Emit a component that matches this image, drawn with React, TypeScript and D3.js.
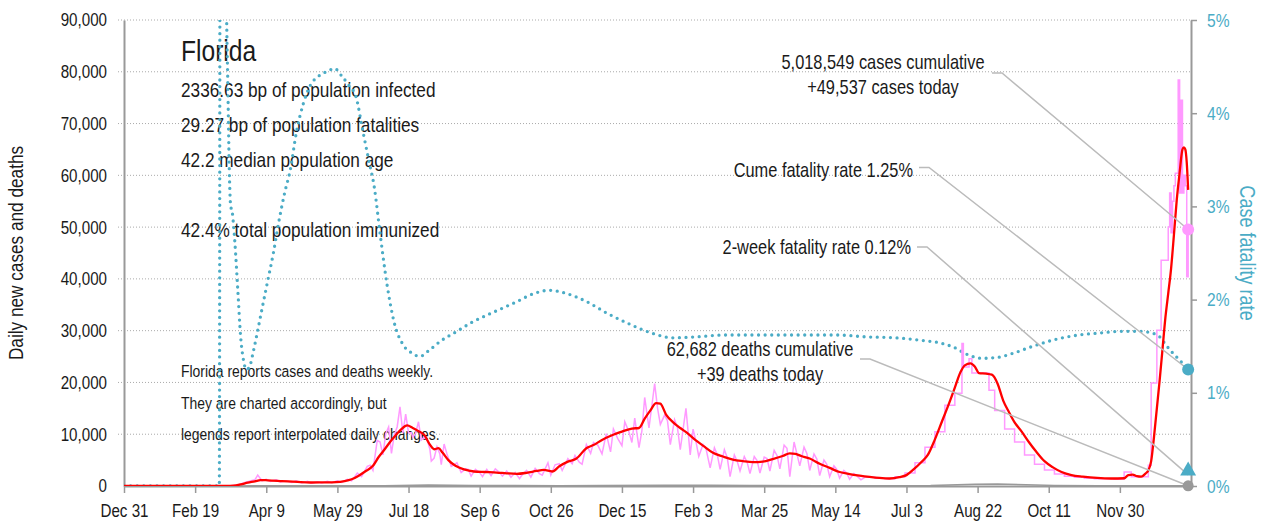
import { useEffect, useRef } from 'react';
import * as d3 from 'd3';

const W = 1266, H = 527;
const FONT = '"Liberation Sans", Arial, sans-serif';
const NARROW = 0.82; // horizontal squeeze to mimic a condensed face
const TEAL = '#4bacc6', PINK = '#ff99ff', RED = '#ff0000', GRAY = '#999';

// chart frame
const left = 124, right = 1191, top = 20, bottom = 486;

const startDate = '2019-12-31';
const endDate = '2022-01-19';
const lastDate = '2022-01-17';
const caseTicks = [0, 10000, 20000, 30000, 40000, 50000, 60000, 70000, 80000, 90000];
const rateTicks = [0, 1, 2, 3, 4, 5];
const tickEveryDays = 50;
const tickCount = 15;

const title = 'Florida';
const statLines = [
  '2336.63 bp of population infected',
  '29.27 bp of population fatalities',
  '42.2 median population age',
  '',
  '42.4% total population immunized',
];
const noteLines = [
  'Florida reports cases and deaths weekly.',
  'They are charted accordingly, but',
  'legends report interpolated daily changes.',
];

const casesToday = 49537;
const deathsToday = 39;
const cumeRate = 1.25;
const twoWeekRate = 0.12;

// 7-day average of new cases
const avgCases: [string, number][] = [
  ['2019-12-31', 0], ['2020-03-12', 0], ['2020-03-17', 50], ['2020-03-22', 300], ['2020-03-27', 650],
  ['2020-04-01', 900], ['2020-04-05', 1150], ['2020-04-10', 1100], ['2020-04-20', 950], ['2020-05-01', 780],
  ['2020-05-10', 680], ['2020-05-20', 700], ['2020-05-28', 750], ['2020-06-03', 950], ['2020-06-08', 1300],
  ['2020-06-13', 2000], ['2020-06-18', 2900], ['2020-06-23', 3900], ['2020-06-27', 5600], ['2020-07-01', 7000],
  ['2020-07-05', 8500], ['2020-07-09', 9800], ['2020-07-13', 11000], ['2020-07-17', 11700], ['2020-07-21', 11200],
  ['2020-07-25', 10600], ['2020-07-29', 9900], ['2020-08-02', 8000], ['2020-08-05', 7100], ['2020-08-08', 7300],
  ['2020-08-11', 6400], ['2020-08-15', 5000], ['2020-08-20', 3900], ['2020-08-26', 3200], ['2020-09-02', 2800],
  ['2020-09-10', 2700], ['2020-09-18', 2600], ['2020-09-25', 2450], ['2020-10-02', 2350], ['2020-10-09', 2550],
  ['2020-10-16', 2900], ['2020-10-21', 3100], ['2020-10-27', 2800], ['2020-11-01', 3800], ['2020-11-07', 4700],
  ['2020-11-13', 5300], ['2020-11-20', 7300], ['2020-11-25', 7900], ['2020-12-01', 8900], ['2020-12-08', 9800],
  ['2020-12-15', 10500], ['2020-12-22', 11100], ['2020-12-27', 11200], ['2020-12-31', 13000], ['2021-01-04', 14600],
  ['2021-01-08', 16000], ['2021-01-11', 15900], ['2021-01-15', 13800], ['2021-01-20', 12300], ['2021-01-25', 11200],
  ['2021-01-30', 10200], ['2021-02-05', 8800], ['2021-02-11', 7600], ['2021-02-17', 6400], ['2021-02-24', 5700],
  ['2021-03-03', 5100], ['2021-03-10', 4800], ['2021-03-17', 4600], ['2021-03-24', 4700], ['2021-03-31', 5200],
  ['2021-04-07', 5800], ['2021-04-12', 6300], ['2021-04-16', 6200], ['2021-04-20', 5800], ['2021-04-26', 5300],
  ['2021-05-03', 4300], ['2021-05-10', 3500], ['2021-05-17', 2700], ['2021-05-24', 2300], ['2021-05-31', 2000],
  ['2021-06-07', 1750], ['2021-06-14', 1550], ['2021-06-21', 1450], ['2021-06-28', 1700], ['2021-07-03', 2100],
  ['2021-07-08', 3200], ['2021-07-13', 4500], ['2021-07-18', 6000], ['2021-07-23', 9000], ['2021-07-28', 12500],
  ['2021-08-02', 16000], ['2021-08-06', 19000], ['2021-08-10', 22000], ['2021-08-13', 23300], ['2021-08-17', 23700],
  ['2021-08-20', 23100], ['2021-08-23', 21800], ['2021-08-28', 21700], ['2021-09-01', 21500], ['2021-09-05', 19800],
  ['2021-09-09', 16500], ['2021-09-13', 14300], ['2021-09-17', 12300], ['2021-09-22', 10500], ['2021-09-27', 8500],
  ['2021-10-02', 6700], ['2021-10-08', 4800], ['2021-10-14', 3600], ['2021-10-20', 2700], ['2021-10-27', 2100],
  ['2021-11-04', 1800], ['2021-11-14', 1550], ['2021-11-24', 1450], ['2021-12-03', 1500], ['2021-12-06', 2100],
  ['2021-12-09', 2200], ['2021-12-12', 1900], ['2021-12-15', 1800], ['2021-12-18', 2400], ['2021-12-20', 3000],
  ['2021-12-22', 4800], ['2021-12-24', 9500], ['2021-12-26', 15000], ['2021-12-28', 20500], ['2021-12-30', 26500],
  ['2022-01-01', 32500], ['2022-01-03', 37200], ['2022-01-05', 42000], ['2022-01-07', 48500], ['2022-01-09', 55300],
  ['2022-01-11', 60500], ['2022-01-13', 65000], ['2022-01-14', 65400], ['2022-01-15', 65000], ['2022-01-16', 62500],
  ['2022-01-17', 57200],
];

// daily new cases while reported daily
const dailyCases: [string, number][] = [
  ['2019-12-31', 0], ['2020-03-10', 0], ['2020-03-15', 50], ['2020-03-20', 200], ['2020-03-25', 700],
  ['2020-03-28', 900], ['2020-04-01', 1200], ['2020-04-03', 2100], ['2020-04-06', 1000], ['2020-04-09', 1300],
  ['2020-04-12', 900], ['2020-04-16', 1200], ['2020-04-19', 800], ['2020-04-23', 1000], ['2020-04-27', 700],
  ['2020-04-30', 1000], ['2020-05-04', 600], ['2020-05-08', 900], ['2020-05-11', 550], ['2020-05-15', 800],
  ['2020-05-18', 600], ['2020-05-22', 900], ['2020-05-25', 650], ['2020-05-29', 1000], ['2020-06-01', 700],
  ['2020-06-05', 1300], ['2020-06-08', 1000], ['2020-06-12', 2500], ['2020-06-15', 1800], ['2020-06-19', 3800],
  ['2020-06-21', 4000], ['2020-06-23', 3000], ['2020-06-26', 8800], ['2020-06-28', 8500], ['2020-06-30', 6000],
  ['2020-07-02', 10100], ['2020-07-04', 11400], ['2020-07-06', 6300], ['2020-07-08', 9900], ['2020-07-10', 11400],
  ['2020-07-12', 15300], ['2020-07-14', 10200], ['2020-07-16', 13900], ['2020-07-18', 10300], ['2020-07-20', 10300],
  ['2020-07-21', 9400], ['2020-07-23', 10200], ['2020-07-25', 12400], ['2020-07-27', 8900], ['2020-07-29', 9400],
  ['2020-07-31', 9000], ['2020-08-02', 7100], ['2020-08-03', 4800], ['2020-08-05', 5400], ['2020-08-07', 7600],
  ['2020-08-09', 6200], ['2020-08-10', 4100], ['2020-08-12', 8100], ['2020-08-14', 6200], ['2020-08-17', 3800],
  ['2020-08-19', 4100], ['2020-08-21', 4500], ['2020-08-24', 2600], ['2020-08-27', 3300], ['2020-08-29', 3200],
  ['2020-08-31', 1900], ['2020-09-03', 3200], ['2020-09-06', 2600], ['2020-09-08', 1800], ['2020-09-11', 3200],
  ['2020-09-14', 2000], ['2020-09-17', 3300], ['2020-09-20', 2600], ['2020-09-22', 1900], ['2020-09-25', 2900],
  ['2020-09-28', 1700], ['2020-10-01', 2600], ['2020-10-04', 1400], ['2020-10-06', 2200], ['2020-10-09', 3000],
  ['2020-10-12', 1700], ['2020-10-15', 3400], ['2020-10-18', 2400], ['2020-10-20', 2100], ['2020-10-24', 4500],
  ['2020-10-26', 2100], ['2020-10-29', 4100], ['2020-11-01', 4300], ['2020-11-03', 3000], ['2020-11-07', 5300],
  ['2020-11-10', 4300], ['2020-11-12', 5900], ['2020-11-15', 4600], ['2020-11-17', 4200], ['2020-11-20', 8000],
  ['2020-11-23', 6300], ['2020-11-25', 8400], ['2020-11-28', 7900], ['2020-12-01', 6200], ['2020-12-04', 10100],
  ['2020-12-07', 6600], ['2020-12-09', 11000], ['2020-12-12', 9200], ['2020-12-15', 7800], ['2020-12-17', 12400],
  ['2020-12-20', 10400], ['2020-12-22', 8400], ['2020-12-24', 13100], ['2020-12-27', 7400], ['2020-12-29', 10600],
  ['2020-12-31', 17100], ['2021-01-03', 11200], ['2021-01-05', 15400], ['2021-01-07', 19800], ['2021-01-09', 15100],
  ['2021-01-11', 11900], ['2021-01-14', 13700], ['2021-01-16', 12600], ['2021-01-18', 8000], ['2021-01-21', 12800],
  ['2021-01-23', 11300], ['2021-01-25', 7000], ['2021-01-29', 15000], ['2021-02-01', 6000], ['2021-02-03', 11000],
  ['2021-02-05', 8600], ['2021-02-07', 5700], ['2021-02-10', 8000], ['2021-02-12', 7300], ['2021-02-15', 3500],
  ['2021-02-18', 7400], ['2021-02-20', 6100], ['2021-02-22', 3200], ['2021-02-25', 7000], ['2021-02-27', 5500],
  ['2021-03-01', 1800], ['2021-03-04', 6000], ['2021-03-06', 4800], ['2021-03-08', 2900], ['2021-03-11', 5700],
  ['2021-03-13', 4600], ['2021-03-15', 2400], ['2021-03-18', 5700], ['2021-03-20', 4900], ['2021-03-22', 2500],
  ['2021-03-25', 5600], ['2021-03-27', 5300], ['2021-03-29', 2900], ['2021-04-01', 6900], ['2021-04-03', 5900],
  ['2021-04-05', 3300], ['2021-04-08', 7900], ['2021-04-10', 7300], ['2021-04-12', 1800], ['2021-04-15', 8500],
  ['2021-04-17', 6200], ['2021-04-19', 3900], ['2021-04-22', 7500], ['2021-04-24', 6300], ['2021-04-26', 3000],
  ['2021-04-29', 6200], ['2021-05-01', 5200], ['2021-05-03', 2000], ['2021-05-06', 5000], ['2021-05-08', 4200],
  ['2021-05-10', 1800], ['2021-05-13', 3900], ['2021-05-15', 3200], ['2021-05-17', 1500], ['2021-05-20', 3000],
  ['2021-05-22', 2500], ['2021-05-24', 1300], ['2021-05-27', 2400], ['2021-05-29', 2000], ['2021-06-01', 1200],
  ['2021-06-04', 1700],
];

// new cases after the switch to weekly reporting (held flat until the next value)
const weeklyCases: [string, number][] = [
  ['2021-06-04', 1700], ['2021-06-11', 1500], ['2021-06-18', 1400], ['2021-06-25', 1800], ['2021-07-02', 2500],
  ['2021-07-09', 4500], ['2021-07-16', 7500], ['2021-07-23', 10500], ['2021-07-30', 15600], ['2021-08-06', 17900],
  ['2021-08-11', 27500], ['2021-08-12', 23000], ['2021-08-16', 24600], ['2021-08-18', 21800], ['2021-08-30', 18500],
  ['2021-09-03', 14600], ['2021-09-10', 11000], ['2021-09-17', 8500], ['2021-09-24', 6000], ['2021-10-01', 4200],
  ['2021-10-08', 3100], ['2021-10-15', 2300], ['2021-10-22', 1900], ['2021-10-29', 1700], ['2021-11-05', 1500],
  ['2021-11-12', 1400], ['2021-11-19', 1400], ['2021-11-26', 1300], ['2021-12-03', 2700], ['2021-12-08', 1800],
  ['2021-12-20', 4000], ['2021-12-22', 19900], ['2021-12-26', 30100], ['2021-12-29', 43600], ['2022-01-03', 50000],
  ['2022-01-04', 56600], ['2022-01-05', 48900], ['2022-01-06', 55000], ['2022-01-07', 58000], ['2022-01-08', 60400],
  ['2022-01-10', 78400], ['2022-01-11', 56600], ['2022-01-12', 74500], ['2022-01-13', 56600], ['2022-01-14', 60000],
  ['2022-01-15', 58000], ['2022-01-16', 40400], ['2022-01-17', 49537],
];

// 7-day average of new deaths
const avgDeaths: [string, number][] = [
  ['2019-12-31', 0], ['2020-03-20', 5], ['2020-04-15', 50], ['2020-06-01', 40], ['2020-07-01', 50],
  ['2020-08-01', 180], ['2020-09-01', 110], ['2020-10-01', 100], ['2020-11-01', 60], ['2020-12-01', 90],
  ['2021-01-15', 160], ['2021-02-15', 140], ['2021-03-15', 80], ['2021-05-01', 60], ['2021-06-15', 40],
  ['2021-07-20', 80], ['2021-08-20', 330], ['2021-09-05', 380], ['2021-09-25', 250], ['2021-10-15', 100],
  ['2021-11-15', 40], ['2021-12-15', 25], ['2022-01-17', 39],
];

// case fatality rate, percent
const fatalityRate: [string, number][] = [
  ['2019-12-31', 0], ['2020-03-07', 0], ['2020-03-08', 15], ['2020-03-11', 7], ['2020-03-12', 5.2],
  ['2020-03-13', 4.3], ['2020-03-14', 3.4], ['2020-03-15', 3.0], ['2020-03-16', 2.95], ['2020-03-17', 2.8],
  ['2020-03-18', 2.6], ['2020-03-20', 2.1], ['2020-03-22', 1.6], ['2020-03-24', 1.35], ['2020-03-26', 1.25],
  ['2020-03-28', 1.27], ['2020-03-31', 1.45], ['2020-04-03', 1.67], ['2020-04-06', 1.9], ['2020-04-10', 2.2],
  ['2020-04-14', 2.5], ['2020-04-18', 2.85], ['2020-04-22', 3.15], ['2020-04-26', 3.4], ['2020-04-30', 3.78],
  ['2020-05-05', 4.1], ['2020-05-10', 4.3], ['2020-05-16', 4.4], ['2020-05-22', 4.45], ['2020-05-27', 4.48],
  ['2020-06-01', 4.4], ['2020-06-06', 4.3], ['2020-06-11', 4.18], ['2020-06-16', 3.8], ['2020-06-20', 3.5],
  ['2020-06-24', 3.2], ['2020-06-28', 2.71], ['2020-07-03', 2.15], ['2020-07-08', 1.75], ['2020-07-14', 1.52],
  ['2020-07-20', 1.43], ['2020-07-26', 1.39], ['2020-08-01', 1.45], ['2020-08-10', 1.56], ['2020-08-20', 1.65],
  ['2020-09-01', 1.76], ['2020-09-15', 1.86], ['2020-10-01', 1.97], ['2020-10-15', 2.07], ['2020-10-25', 2.1],
  ['2020-11-05', 2.07], ['2020-11-20', 1.98], ['2020-12-05', 1.85], ['2020-12-20', 1.74], ['2021-01-05', 1.64],
  ['2021-01-20', 1.59], ['2021-02-05', 1.6], ['2021-02-25', 1.62], ['2021-03-15', 1.62], ['2021-04-05', 1.62],
  ['2021-04-25', 1.62], ['2021-05-15', 1.62], ['2021-06-05', 1.6], ['2021-06-25', 1.59], ['2021-07-15', 1.56],
  ['2021-07-25', 1.54], ['2021-08-05', 1.49], ['2021-08-15', 1.41], ['2021-08-25', 1.37], ['2021-09-05', 1.38],
  ['2021-09-15', 1.42], ['2021-09-30', 1.5], ['2021-10-15', 1.57], ['2021-11-01', 1.62], ['2021-11-15', 1.64],
  ['2021-12-01', 1.66], ['2021-12-13', 1.66], ['2021-12-20', 1.65], ['2021-12-28', 1.6], ['2022-01-01', 1.52],
  ['2022-01-06', 1.43], ['2022-01-11', 1.35], ['2022-01-17', 1.25],
];

const parse = d3.timeParse('%Y-%m-%d');

function App() {
  const node = useRef<SVGSVGElement>(null);

  useEffect(() => {
    if (!node.current) return;
    const svg = d3.select(node.current);
    svg.selectAll('*').remove();

    const start = parse(startDate)!;
    const x = d3.scaleTime().domain([start, parse(endDate)!]).range([left, right]);
    const y = d3.scaleLinear().domain([0, 90000]).range([bottom, top]);
    const yR = d3.scaleLinear().domain([0, 5]).range([bottom, top]);
    const xTicks = d3.range(tickCount).map(i => d3.timeDay.offset(start, i * tickEveryDays));

    // squeezed text placed at (tx, ty)
    const label = (parent: any, tx: number, ty: number, size: number, txt: string, anchor = 'start', fill = '#1a1a1a', extra = '') =>
      parent.append('text')
        .attr('transform', `translate(${tx},${ty}) ${extra} scale(${NARROW},1)`)
        .attr('text-anchor', anchor).attr('font-family', FONT).attr('font-size', size).attr('fill', fill)
        .text(txt);

    // grid
    svg.append('g').selectAll('line').data(caseTicks.filter(d => d > 0)).enter().append('line')
      .attr('x1', left - 6).attr('x2', right)
      .attr('y1', d => y(d)).attr('y2', d => y(d))
      .attr('stroke', '#aaa').attr('stroke-width', 1).attr('stroke-dasharray', '1,2');

    const styleAxis = (g: any, color: string, size: number) => {
      g.attr('font-family', FONT).attr('font-size', size);
      g.select('.domain').attr('stroke', GRAY).attr('stroke-width', 2);
      g.selectAll('.tick line').attr('stroke', GRAY).attr('stroke-width', 1.5);
      g.selectAll('.tick text').attr('fill', color).attr('transform', `scale(${NARROW},1)`);
    };

    const xAxisG = svg.append('g').attr('transform', `translate(0,${bottom})`)
      .call(d3.axisBottom(x).tickValues(xTicks).tickFormat(d3.timeFormat('%b %-d') as any).tickSize(7).tickSizeOuter(0).tickPadding(11));
    styleAxis(xAxisG, '#1a1a1a', 18.5);

    const yAxisG = svg.append('g').attr('transform', `translate(${left},0)`)
      .call(d3.axisLeft(y).tickValues(caseTicks).tickFormat(d3.format(',') as any).tickSize(0).tickPadding(17 / NARROW));
    styleAxis(yAxisG, '#1a1a1a', 18.5);

    const yRAxisG = svg.append('g').attr('transform', `translate(${right},0)`)
      .call(d3.axisRight(yR).tickValues(rateTicks).tickFormat((d: any) => d + '%').tickSize(6).tickSizeOuter(0).tickPadding(16 / NARROW - 6));
    styleAxis(yRAxisG, TEAL, 19);

    label(svg, 23, (top + bottom) / 2, 21, 'Daily new cases and deaths', 'middle', '#1a1a1a', 'rotate(-90)');
    label(svg, 1240, (top + bottom) / 2, 22, 'Case fatality rate', 'middle', TEAL, 'rotate(90)');

    svg.append('clipPath').attr('id', 'plot-clip').append('rect')
      .attr('x', left).attr('y', top).attr('width', right - left + 2).attr('height', bottom - top);

    const line = d3.line<[string, number]>().x(d => x(parse(d[0])!)).y(d => y(d[1]));
    const stepLine = d3.line<[string, number]>().x(d => x(parse(d[0])!)).y(d => y(d[1])).curve(d3.curveStepAfter);
    const smoothLine = d3.line<[string, number]>().x(d => x(parse(d[0])!)).y(d => y(d[1])).curve(d3.curveMonotoneX);
    const rateLine = d3.line<[string, number]>().x(d => x(parse(d[0])!)).y(d => yR(d[1])).curve(d3.curveMonotoneX);

    // text block
    label(svg, 181, 61, 30, title);
    statLines.forEach((t, i) => { if (t) label(svg, 181, 97 + i * 35, 21, t); });
    noteLines.forEach((t, i) => label(svg, 181, 377 + i * 31.5, 17, t));

    const plot = svg.append('g').attr('clip-path', 'url(#plot-clip)');
    plot.append('path').datum(fatalityRate).attr('d', rateLine).attr('fill', 'none')
      .attr('stroke', TEAL).attr('stroke-width', 3.3).attr('stroke-linecap', 'round').attr('stroke-dasharray', '0,6.6');
    plot.append('path').datum(dailyCases).attr('d', line).attr('fill', 'none')
      .attr('stroke', PINK).attr('stroke-width', 1.5);
    plot.append('path').datum(weeklyCases).attr('d', stepLine).attr('fill', 'none')
      .attr('stroke', PINK).attr('stroke-width', 1.5);
    plot.append('path').datum(avgDeaths).attr('d', line).attr('fill', 'none')
      .attr('stroke', GRAY).attr('stroke-width', 1.5);
    plot.append('path').datum(avgCases).attr('d', smoothLine).attr('fill', 'none')
      .attr('stroke', RED).attr('stroke-width', 2.3);

    // annotations with leader lines
    const xLast = x(parse(lastDate)!);
    const notes = [
      { lines: ['5,018,549 cases cumulative', '+49,537 cases today'], anchor: 'middle', tx: 883, ty: 69, lx: 992, ly: 73, ty2: y(casesToday) },
      { lines: ['Cume fatality rate 1.25%'], anchor: 'end', tx: 913, ty: 177, lx: 919, ly: 167.5, ty2: yR(cumeRate) },
      { lines: ['2-week fatality rate 0.12%'], anchor: 'end', tx: 911, ty: 254, lx: 917, ly: 247, ty2: yR(twoWeekRate) },
      { lines: ['62,682 deaths cumulative', '+39 deaths today'], anchor: 'middle', tx: 760, ty: 356, lx: 860, ly: 359, ty2: y(deathsToday) },
    ];
    notes.forEach(n => {
      n.lines.forEach((t, i) => label(svg, n.tx, n.ty + i * 25, 20, t, n.anchor));
      svg.append('path')
        .attr('d', d3.line()([[n.lx, n.ly], [n.lx + 10, n.ly], [xLast, n.ty2]]))
        .attr('fill', 'none').attr('stroke', '#bbb').attr('stroke-width', 1.5);
    });

    // end markers
    svg.append('circle').attr('cx', xLast).attr('cy', y(deathsToday)).attr('r', 5.5).attr('fill', GRAY);
    svg.append('path').attr('d', d3.symbol(d3.symbolTriangle, 110)())
      .attr('transform', `translate(${xLast},${yR(twoWeekRate) - 4})`).attr('fill', TEAL);
    svg.append('circle').attr('cx', xLast).attr('cy', yR(cumeRate)).attr('r', 6).attr('fill', TEAL);
    svg.append('circle').attr('cx', xLast).attr('cy', y(casesToday)).attr('r', 6).attr('fill', PINK);
  }, [node]);

  return (
    <>
      <style>{'body{margin:0}'}</style>
      <svg ref={node} width={W} height={H} style={{ display: 'block', background: '#fff' }}></svg>
    </>
  );
}

export default App;
